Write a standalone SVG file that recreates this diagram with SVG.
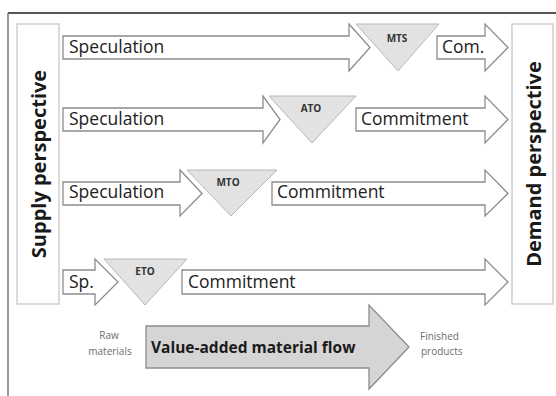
<svg xmlns="http://www.w3.org/2000/svg" width="556" height="396" viewBox="0 0 556 396">
<style>
  .arr { fill: #ffffff; stroke: #8c8c8c; stroke-width: 1.3; stroke-linejoin: miter; }
  .tri { fill: #e2e2e2; stroke: #b8b8b8; stroke-width: 1; }
  .persp { fill: #ffffff; stroke: #cfcfcf; stroke-width: 1.5; }
  .lbl { font-family: "Open Sans", "Noto Sans", sans-serif; font-size: 17.5px; fill: #222; }
  .tlbl { font-family: "Open Sans", "Noto Sans", sans-serif; font-size: 10px; font-weight: bold; fill: #333; text-anchor: middle; }
  .vlbl { font-family: "Open Sans", "Noto Sans", sans-serif; font-size: 20px; font-weight: bold; fill: #1a1a1a; text-anchor: middle; }
  .small { font-family: "Open Sans", "Noto Sans", sans-serif; font-size: 10px; fill: #6e6e6e; }
  .flow { fill: #d5d5d5; stroke: #8c8c8c; stroke-width: 1.3; }
</style>
<rect width="556" height="396" fill="#ffffff"/>
<g id="frame">
  <line x1="8" y1="13" x2="556" y2="13" stroke="#555" stroke-width="2"/>
  <line x1="8" y1="13" x2="8" y2="396" stroke="#777" stroke-width="1.5"/>
</g>
<g id="supply">
  <rect class="persp" x="17" y="24" width="42" height="280"/>
  <text class="vlbl" transform="translate(46,164) rotate(-90)">Supply perspective</text>
</g>
<g id="demand">
  <rect class="persp" x="512" y="24" width="41" height="280"/>
  <text class="vlbl" transform="translate(541,164) rotate(-90)">Demand perspective</text>
</g>
<g id="connectors">
  <path id="r1-spec" class="arr" d="M63,36 H349 V24 L370,47.5 L349,71 V59 H63 Z"/>
  <path id="r1-com" class="arr" d="M437,36 H485 V24 L508,47.5 L485,71 V59 H437 Z"/>
  <path id="r2-spec" class="arr" d="M63,108 H263 V96 L280,119.5 L263,143 V131 H63 Z"/>
  <path id="r2-com" class="arr" d="M356,108 H485 V96 L508,119.5 L485,143 V131 H356 Z"/>
  <path id="r3-spec" class="arr" d="M63,182 H180 V170 L202,193.5 L180,216 V205 H63 Z"/>
  <path id="r3-com" class="arr" d="M272,182 H485 V170 L508,193.5 L485,216 V205 H272 Z"/>
  <path id="r4-spec" class="arr" d="M63,270 H95 V259 L118,282 L95,305 V294 H63 Z"/>
  <path id="r4-com" class="arr" d="M182,270 H485 V259 L508,282 L485,305 V294 H182 Z"/>
  <path id="flow" class="flow" d="M146,326 H369 V305 L409,347 L369,389 V368 H146 Z"/>
</g>
<g id="labels">
  <text class="lbl" x="69" y="53">Speculation</text>
  <text class="lbl" x="442" y="53">Com.</text>
  <text class="lbl" x="69" y="125">Speculation</text>
  <text class="lbl" x="361" y="125">Commitment</text>
  <text class="lbl" x="69" y="198">Speculation</text>
  <text class="lbl" x="277" y="198">Commitment</text>
  <text class="lbl" x="69" y="288">Sp.</text>
  <text class="lbl" x="188" y="288">Commitment</text>
</g>
<g id="mts">
  <polygon class="tri" points="356,24 439,24 398,71"/>
  <text class="tlbl" x="397" y="42">MTS</text>
</g>
<g id="ato">
  <polygon class="tri" points="269,96 356,96 312,143"/>
  <text class="tlbl" x="311" y="112">ATO</text>
</g>
<g id="mto">
  <polygon class="tri" points="187,170 277,170 231,216"/>
  <text class="tlbl" x="228" y="186">MTO</text>
</g>
<g id="eto">
  <polygon class="tri" points="104,259 187,259 145,305"/>
  <text class="tlbl" x="145" y="275">ETO</text>
</g>
<g id="flow-labels">
  <text font-family="'Open Sans', 'Noto Sans', sans-serif" font-size="15.5" font-weight="bold" fill="#1a1a1a" x="151" y="353">Value-added material flow</text>
  <text class="small" x="109" y="339" text-anchor="middle">Raw</text>
  <text class="small" x="110" y="355" text-anchor="middle">materials</text>
  <text class="small" x="420" y="340">Finished</text>
  <text class="small" x="421" y="355">products</text>
</g>
</svg>
